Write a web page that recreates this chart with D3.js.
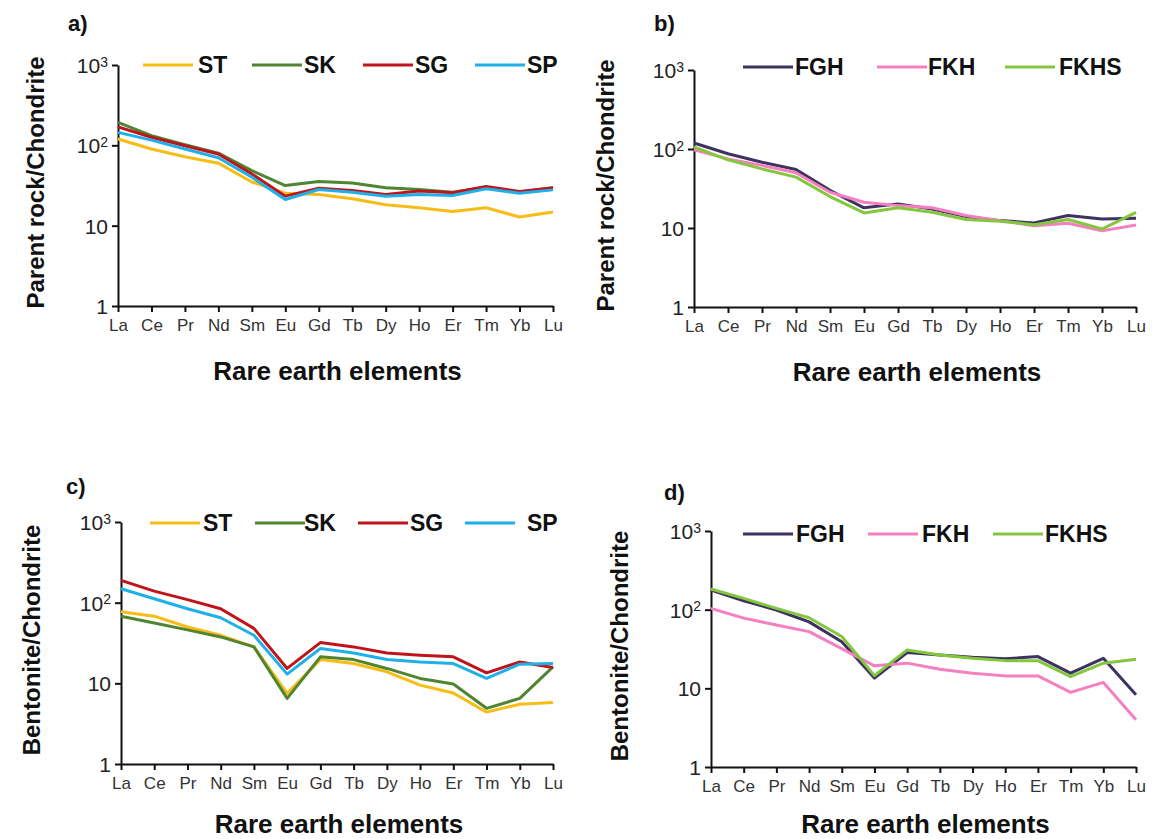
<!DOCTYPE html>
<html lang="en">
<head>
  <meta charset="UTF-8">
  <title>REE chondrite-normalised patterns</title>
  <script src="https://d3js.org/d3.v7.min.js"></script>
  <style>
    body { margin: 0; background: #fff; }
    text { font-family: "Liberation Sans", Arial, sans-serif; }
  </style>
</head>
<body>
<script type="text/javascript">
    // rare earth elements on the x axis
    var elements = ["La","Ce","Pr","Nd","Sm","Eu","Gd","Tb","Dy","Ho","Er","Tm","Yb","Lu"];
    // y ticks (log scale) and their labels
    var yTicks = [1, 10, 100, 1000];
    var yTickBase = ["1", "10", "10", "10"];
    var yTickSup = ["", "", "2", "3"];

    // a) parent rock / chondrite
    var stA = [120, 90, 72, 60, 35, 25.4, 24.5, 21.6, 18.2, 16.7, 15, 16.7, 12.8, 14.8];
    var skA = [193, 132, 102, 80, 48.5, 31.6, 35.5, 34, 29.6, 28.2, 26, 30, 26, 29.6];
    var sgA = [170, 126, 99, 78, 44, 23.3, 29.3, 27.4, 24.5, 27, 25.7, 30.7, 26.7, 29.6];
    var spA = [145, 116, 90, 70, 40, 21.2, 28.2, 26, 23.3, 24.5, 23.8, 28.8, 25.4, 27.9];

    // b) parent rock / chondrite
    var fghB = [119, 87, 68, 55, 30, 18, 20.2, 17.4, 14, 12.4, 11.6, 14.4, 13, 13.3];
    var fkhB = [98, 75, 62, 50, 28.4, 21.2, 19.2, 18, 14.4, 12.4, 10.7, 11.5, 9.2, 10.9];
    var fkhsB = [106, 73, 56, 44, 25, 15.5, 18, 15.8, 12.8, 12.2, 11, 12.8, 9.7, 15.8];

    // c) bentonite / chondrite
    var stC = [77, 68, 50, 39.4, 28.3, 7.5, 19.7, 17.6, 13.9, 9.5, 7.6, 4.4, 5.5, 5.8];
    var skC = [68, 56, 46, 37.6, 28.3, 6.5, 21.3, 19.7, 15.3, 11.5, 9.8, 4.9, 6.5, 16];
    var sgC = [189, 139, 109, 84, 48, 15.3, 32, 28.3, 23.8, 22.3, 21.3, 13.5, 18.4, 15.7];
    var spC = [149, 112, 84, 65, 39.4, 13, 27, 23.8, 19.7, 18.4, 17.6, 11.5, 17.3, 17.6];

    // d) bentonite / chondrite
    var fghD = [178, 130, 99, 70, 39, 13.5, 28.5, 26.6, 24.8, 23.7, 25.3, 15.6, 24.1, 8.3];
    var fkhD = [104, 78, 64, 52.6, 32, 19.3, 20.9, 17.5, 15.6, 14.4, 14.4, 8.9, 11.9, 4.0];
    var fkhsD = [183, 139, 104, 79, 45.5, 14.5, 30.8, 26.6, 24.1, 22.5, 22.5, 14.1, 20.9, 23.4];

    var colors = {
      ST: "#f7bd16", SK: "#4f8530", SG: "#c0141c", SP: "#1fb0ea",
      FGH: "#3d3260", FKH: "#f57fc0", FKHS: "#84c73e"
    };

    var panels = [
      { tag: "a)", yTitle: "Parent rock/Chondrite",
        names: ["ST","SK","SG","SP"], values: [stA, skA, sgA, spA],
        x0: 118, x1: 553, yTop: 65, yBot: 306, tagX: 68, tagY: 31, yTitleX: 44, xTitleDy: 74,
        legY: 65, legLine: [143, 252, 363, 475], legText: [198, 304, 415, 527] },
      { tag: "b)", yTitle: "Parent rock/Chondrite",
        names: ["FGH","FKH","FKHS"], values: [fghB, fkhB, fkhsB],
        x0: 694, x1: 1136, yTop: 70, yBot: 307, tagX: 654, tagY: 31, yTitleX: 614, xTitleDy: 74,
        legY: 67, legLine: [743, 877, 1005], legText: [795, 928, 1059] },
      { tag: "c)", yTitle: "Bentonite/Chondrite",
        names: ["ST","SK","SG","SP"], values: [stC, skC, sgC, spC],
        x0: 121, x1: 553, yTop: 522, yBot: 764, tagX: 66, tagY: 494, yTitleX: 40, xTitleDy: 69,
        legY: 523, legLine: [150, 255, 358, 465], legText: [203, 304, 410, 527] },
      { tag: "d)", yTitle: "Bentonite/Chondrite",
        names: ["FGH","FKH","FKHS"], values: [fghD, fkhD, fkhsD],
        x0: 711, x1: 1136, yTop: 531, yBot: 767, tagX: 664, tagY: 500, yTitleX: 628, xTitleDy: 66,
        legY: 534, legLine: [743, 868, 993], legText: [796, 922, 1045] }
    ];

    var svg = d3.select("body").append("svg")
                .attr("width", 1155)
                .attr("height", 839);

    panels.forEach(function(p){
      var g = svg.append("g");

      var x = d3.scalePoint().domain(elements).range([p.x0, p.x1]);
      var y = d3.scaleLog().domain([1, 1000]).range([p.yBot, p.yTop]);

      // x axis
      var xa = g.append("g")
          .attr("transform", "translate(0," + p.yBot + ")")
          .call(d3.axisBottom(x).tickSize(6).tickSizeOuter(0).tickPadding(7));
      xa.selectAll("text")
          .attr("font-size", 17).attr("fill", "#333")
          .style("font-family", "Liberation Sans, Arial, sans-serif");

      // y axis
      var ya = g.append("g")
          .attr("transform", "translate(" + p.x0 + ",0)")
          .call(d3.axisLeft(y).tickValues(yTicks).tickSize(6).tickSizeOuter(0).tickFormat(""));
      ya.selectAll(".tick").each(function(d, i){
        var t = d3.select(this).append("text")
            .attr("x", -10).attr("dy", "0.35em")
            .attr("text-anchor", "end")
            .attr("fill", "#222")
            .attr("font-size", 21);
        t.append("tspan").text(yTickBase[i]);
        if (yTickSup[i]) {
          t.append("tspan").attr("dy", "-0.45em").attr("font-size", 14).text(yTickSup[i]);
        }
      });

      g.selectAll(".domain, .tick line").attr("stroke", "#111").attr("stroke-width", 2);

      // series lines
      var line = d3.line()
          .x(function(d, i){ return x(elements[i]); })
          .y(function(d){ return y(d); });

      p.values.forEach(function(vals, k){
        g.append("path")
          .datum(vals)
          .attr("fill", "none")
          .attr("stroke", colors[p.names[k]])
          .attr("stroke-width", 3)
          .attr("stroke-linejoin", "round")
          .attr("d", line);
      });

      // legend
      p.names.forEach(function(n, k){
        g.append("line")
          .attr("x1", p.legLine[k]).attr("x2", p.legLine[k] + 50)
          .attr("y1", p.legY).attr("y2", p.legY)
          .attr("stroke", colors[n]).attr("stroke-width", 3);
        g.append("text")
          .attr("x", p.legText[k]).attr("y", p.legY).attr("dy", "0.35em")
          .attr("font-size", 23).attr("font-weight", "bold").attr("fill", "#111")
          .text(n);
      });

      // panel tag
      g.append("text")
        .attr("x", p.tagX).attr("y", p.tagY)
        .attr("font-size", 22).attr("font-weight", "bold").attr("fill", "#111")
        .text(p.tag);

      // axis titles
      g.append("text")
        .attr("transform", "translate(" + p.yTitleX + "," + ((p.yTop + p.yBot) / 2 - 3) + ") rotate(-90)")
        .attr("text-anchor", "middle")
        .attr("font-size", 24).attr("font-weight", "bold").attr("fill", "#111")
        .text(p.yTitle);

      g.append("text")
        .attr("x", (p.x0 + p.x1) / 2 + 2).attr("y", p.yBot + p.xTitleDy)
        .attr("text-anchor", "middle")
        .attr("font-size", 26).attr("font-weight", "bold").attr("fill", "#111")
        .text("Rare earth elements");
    });
</script>
</body>
</html>
